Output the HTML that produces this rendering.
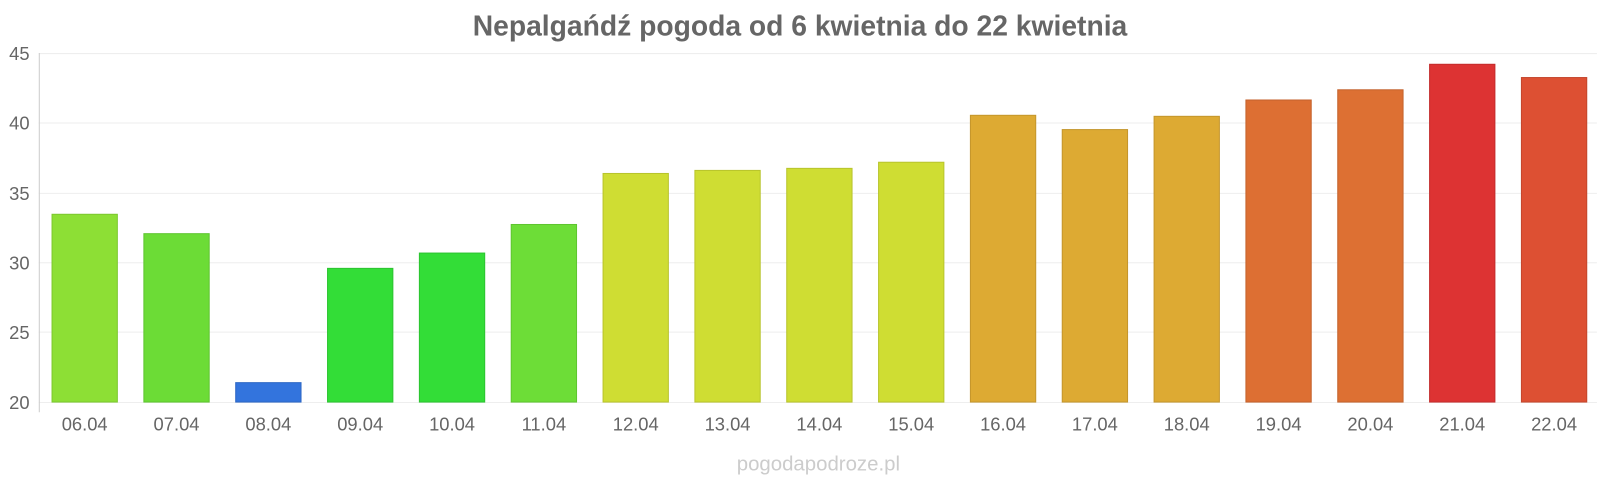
<!DOCTYPE html>
<html><head><meta charset="utf-8"><style>
body{margin:0;background:#fff;}
</style></head><body>
<svg width="1600" height="480" viewBox="0 0 1568 470.4" preserveAspectRatio="none" xmlns="http://www.w3.org/2000/svg" font-family="Liberation Sans, sans-serif">
<rect width="1568" height="471" fill="#fff"/>
<text x="784" y="35" text-anchor="middle" font-size="27.7" font-weight="bold" fill="#666">Nepalgańdź pogoda od 6 kwietnia do 22 kwietnia</text>
<g stroke="#eee" stroke-width="1">
<line x1="38" x2="1565" y1="52.5" y2="52.5"/>
<line x1="38" x2="1565" y1="120.5" y2="120.5"/>
<line x1="38" x2="1565" y1="189.5" y2="189.5"/>
<line x1="38" x2="1565" y1="257.5" y2="257.5"/>
<line x1="38" x2="1565" y1="325.5" y2="325.5"/>
<line x1="38" x2="1565" y1="394.5" y2="394.5"/>
</g>
<line x1="38.5" x2="38.5" y1="52" y2="404" stroke="#ccc"/>
<g font-size="18" fill="#666" text-anchor="end">
<text x="29" y="59">45</text><text x="29" y="127">40</text><text x="29" y="196">35</text>
<text x="29" y="264">30</text><text x="29" y="332">25</text><text x="29" y="401">20</text>
</g>
<g stroke-width="1">
<rect x="51" y="210" width="64" height="184" fill="#8ddf35" stroke="#7cc82e"/>
<rect x="141" y="229" width="64" height="165" fill="#6cdc36" stroke="#5ec52f"/>
<rect x="231" y="375" width="64" height="19" fill="#3374dd" stroke="#2c66c4"/>
<rect x="321" y="263" width="64" height="131" fill="#33dd37" stroke="#2cc430"/>
<rect x="411" y="248" width="64" height="146" fill="#33dd37" stroke="#2cc430"/>
<rect x="501" y="220" width="64" height="174" fill="#6ddd37" stroke="#5ec52f"/>
<rect x="591" y="170" width="64" height="224" fill="#cfdd33" stroke="#b8c42c"/>
<rect x="681" y="167" width="64" height="227" fill="#cfdd33" stroke="#b8c42c"/>
<rect x="771" y="165" width="64" height="229" fill="#cfdd33" stroke="#b8c42c"/>
<rect x="861" y="159" width="64" height="235" fill="#cfdd33" stroke="#b8c42c"/>
<rect x="951" y="113" width="64" height="281" fill="#ddaa33" stroke="#c4962c"/>
<rect x="1041" y="127" width="64" height="267" fill="#ddaa33" stroke="#c4962c"/>
<rect x="1131" y="114" width="64" height="280" fill="#ddaa33" stroke="#c4962c"/>
<rect x="1221" y="98" width="64" height="296" fill="#dd6f33" stroke="#c4622c"/>
<rect x="1311" y="88" width="64" height="306" fill="#dd7033" stroke="#c4622c"/>
<rect x="1401" y="63" width="64" height="331" fill="#dd3333" stroke="#c42c2c"/>
<rect x="1491" y="76" width="64" height="318" fill="#dd5033" stroke="#c4462c"/>
</g>
<g font-size="18" fill="#666" text-anchor="middle">
<text x="83" y="422">06.04</text><text x="173" y="422">07.04</text><text x="263" y="422">08.04</text>
<text x="353" y="422">09.04</text><text x="443" y="422">10.04</text><text x="533" y="422">11.04</text>
<text x="623" y="422">12.04</text><text x="713" y="422">13.04</text><text x="803" y="422">14.04</text>
<text x="893" y="422">15.04</text><text x="983" y="422">16.04</text><text x="1073" y="422">17.04</text>
<text x="1163" y="422">18.04</text><text x="1253" y="422">19.04</text><text x="1343" y="422">20.04</text>
<text x="1433" y="422">21.04</text><text x="1523" y="422">22.04</text>
</g>
<text x="802" y="461" text-anchor="middle" font-size="20" fill="#ccc">pogodapodroze.pl</text>
</svg>
</body></html>
